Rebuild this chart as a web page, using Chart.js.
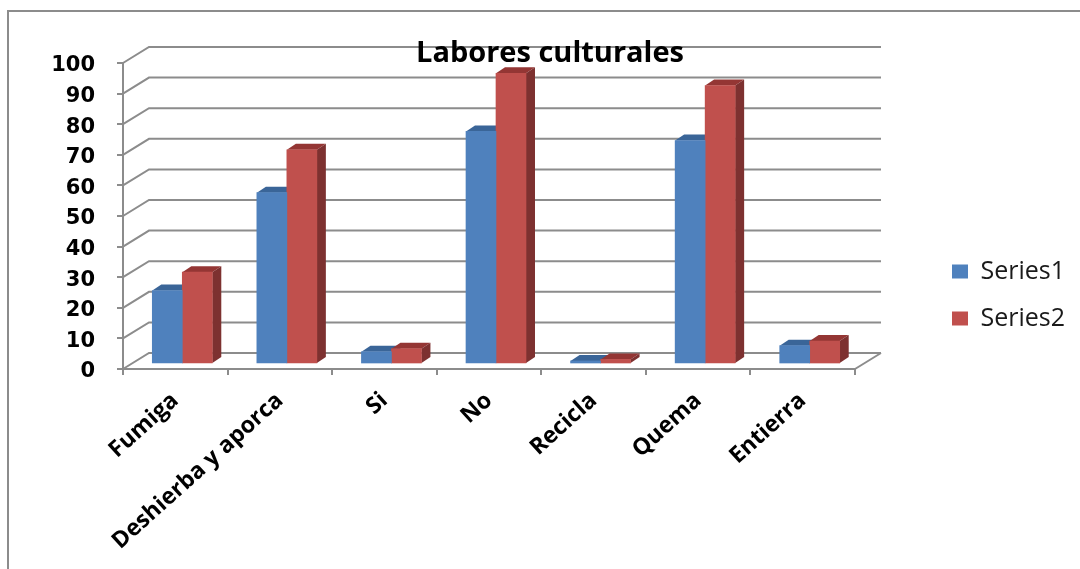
<!DOCTYPE html>
<html><head><meta charset="utf-8">
<style>html,body{margin:0;padding:0;background:#fff}#w{width:1080px;height:569px;position:relative}</style>
<script src="https://cdn.jsdelivr.net/npm/chart.js@4"></script></head>
<body><div id="w"><canvas id="c" width="1080" height="569"></canvas></div>
<script>
const categories = ["Fumiga","Deshierba y aporca","Si","No","Recicla","Quema","Entierra"];
const series1 = [24,56,4,76,1,73,6];
const series2 = [30,70,5,95,1.5,91,7.5];
const titleText = "Labores culturales";
const gray = "#8c8c8c";
const wallDX = 26, wallDY = -16;
const barDX = 7, barDY = -5, sideW = 9, topH = 6;
const sideColors = [{top:"#3a6598",side:"#2f5480"},{top:"#943634",side:"#7d3130"}];

const threeD = {
  id:"threeD",
  beforeLayout(chart){
    if(chart.$patched) return; chart.$patched = true;
    const l = chart.legend, lf = l.fit;
    l.fit = function(){ lf.call(this); this.width = 225; };
    const t = chart.titleBlock, tu = t.update;
    t.update = function(w,h,m){ tu.call(this,w,h,m); this.height = 0; this.bottom = 0; };
  },
  afterLayout(chart){
    const t = chart.titleBlock;
    t.left = 20; t.right = 1080; t.top = 36; t.bottom = 72;
    const l = chart.legend;
    l.left = 930; l.right = 1080; l.top = 237; l.bottom = 569;
    if(l.adjustHitBoxes) l.adjustHitBoxes();
  },
  beforeDraw(chart){
    const c = chart.ctx, y = chart.scales.y, a = chart.chartArea;
    c.save();
    c.strokeStyle = gray; c.lineWidth = 2;
    c.beginPath(); c.moveTo(8,569); c.lineTo(8,11); c.lineTo(1080,11); c.stroke();
    y.ticks.forEach((t,i)=>{
      const p = y.getPixelForTick(i);
      c.beginPath();
      c.moveTo(a.left,p); c.lineTo(a.left+wallDX,p+wallDY); c.lineTo(a.right+wallDX,p+wallDY);
      c.stroke();
    });
    const p0 = y.getPixelForValue(0);
    c.beginPath(); c.moveTo(a.right,p0); c.lineTo(a.right+wallDX,p0+wallDY); c.stroke();
    c.restore();
  },
  beforeDatasetsDraw(chart){
    const c = chart.ctx;
    c.save(); c.translate(barDX,barDY);
    chart.data.datasets.forEach((d,i)=>{
      chart.getDatasetMeta(i).data.forEach(b=>{
        const l = b.x-b.width/2, r = b.x+b.width/2;
        c.fillStyle = sideColors[i].top;
        c.beginPath(); c.moveTo(l,b.y); c.lineTo(l+sideW,b.y-topH); c.lineTo(r+sideW,b.y-topH); c.lineTo(r,b.y); c.closePath(); c.fill();
        c.fillStyle = sideColors[i].side;
        c.beginPath(); c.moveTo(r,b.y); c.lineTo(r+sideW,b.y-topH); c.lineTo(r+sideW,b.base-topH); c.lineTo(r,b.base); c.closePath(); c.fill();
      });
    });
  },
  afterDatasetsDraw(chart){ chart.ctx.restore(); }
};

new Chart(document.getElementById("c"),{
  type:"bar",
  data:{labels:categories,datasets:[
    {label:"Series1",data:series1,backgroundColor:"#4f81bd",barThickness:30},
    {label:"Series2",data:series2,backgroundColor:"#c0504d",barThickness:30}
  ]},
  plugins:[threeD],
  options:{
    responsive:false,animation:false,
    layout:{padding:{top:63,left:0,right:0,bottom:0}},
    plugins:{
      tooltip:{enabled:false},
      title:{display:true,text:titleText,color:"#000",padding:0,font:{family:"Open Sans",size:29,weight:"bold"}},
      legend:{position:"right",align:"start",labels:{boxWidth:16,boxHeight:14,padding:22,color:"#1a1a1a",font:{family:"Open Sans",size:25}}}
    },
    scales:{
      x:{
        afterFit(s){s.height=200;},
        grid:{offset:true,drawOnChartArea:false,color:gray,lineWidth:2,tickLength:6},
        border:{color:gray,width:2},
        ticks:{color:"#000",minRotation:42,maxRotation:42,autoSkip:false,padding:12,font:{family:"Open Sans",size:23,weight:"bold"}}
      },
      y:{
        min:0,max:100,
        afterFit(s){s.width=123;},
        grid:{drawOnChartArea:false,color:gray,lineWidth:2,tickLength:6},
        border:{color:gray,width:2},
        ticks:{stepSize:10,autoSkip:false,color:"#000",padding:22,labelOffset:3,font:{family:"DejaVu Sans",size:21,weight:"bold"}}
      }
    }
  }
});
</script></body></html>
